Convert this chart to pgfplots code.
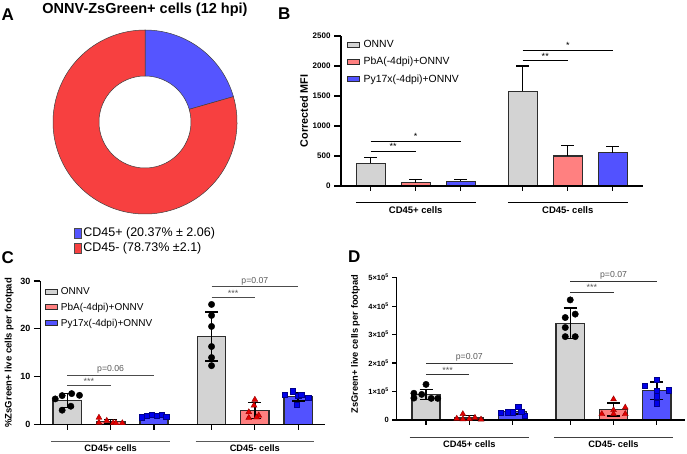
\documentclass[border=0pt]{standalone}
\usepackage{fontspec}
\setmainfont{Liberation Sans}
\setsansfont{Liberation Sans}
\usepackage{pgfplots}
\pgfplotsset{compat=1.18}
\definecolor{gbar}{RGB}{211,211,211}
\definecolor{rbar}{RGB}{255,128,128}
\definecolor{bbar}{RGB}{82,82,255}
\definecolor{dblue}{RGB}{85,85,255}
\definecolor{dred}{RGB}{247,64,64}
\definecolor{tri}{RGB}{228,0,0}
\definecolor{trie}{RGB}{150,0,0}
\definecolor{sq}{RGB}{0,0,235}
\definecolor{sqe}{RGB}{0,0,140}
\definecolor{edge}{RGB}{45,45,45}
\definecolor{sig}{RGB}{90,90,90}
\pgfplotsset{
  gp/.style={scale only axis, anchor=south west, axis y line*=left, axis x line*=none,
    xtick=\empty, clip=false, ymin=0,
    axis line style={line width=1.4pt, black},
    ytick style={line width=1.2pt, black}, tick align=outside,
    /pgf/number format/assume math mode=true, /pgf/number format/1000 sep={},
    scaled y ticks=false,
    legend cell align=left,
    legend image code/.code={\draw[##1, line width=1pt] (0pt,-2.5pt) rectangle (11.5pt,2.5pt);},
  },
  barst/.style={ybar, bar width=#1, draw=edge, line width=1.4pt,
    error bars/y explicit,
    error bars/error bar style={line width=1.4pt, black},
    error bars/error mark options={rotate=90, line width=1.4pt, mark size=6.5pt, black}},
}
\begin{document}
\begin{tikzpicture}
\path[use as bounding box] (0pt,0pt) rectangle (687pt,453pt);
% panel letters and title
\node[anchor=base west, inner sep=0pt, font=\fontsize{17}{17}\selectfont\bfseries] at (1.5pt,432.3pt) {A};
\node[anchor=base west, inner sep=0pt, font=\fontsize{17}{17}\selectfont\bfseries] at (278pt,433.7pt) {B};
\node[anchor=base west, inner sep=0pt, font=\fontsize{17}{17}\selectfont\bfseries] at (1.5pt,190pt) {C};
\node[anchor=base west, inner sep=0pt, font=\fontsize{17}{17}\selectfont\bfseries] at (348pt,190.3pt) {D};
\node[anchor=base, inner sep=0pt, font=\fontsize{14.5}{15}\selectfont\bfseries] at (145pt,439.7pt) {ONNV-ZsGreen+ cells (12 hpi)};

% ---------------- A: donut ----------------
\pgfmathsetmacro{\pplus}{20.37}
\pgfmathsetmacro{\pminus}{78.73}
\pgfmathsetmacro{\angb}{90-360*\pplus/(\pplus+\pminus)}
\begin{axis}[at={(145pt,331pt)}, anchor=center, scale only axis, width=184pt, height=184pt,
  hide axis, xmin=-1, xmax=1, ymin=-1, ymax=1, clip=false,
  legend cell align=left,
  legend style={at={(axis description cs:0.114,-0.0625)}, anchor=north west, draw=none, fill=none,
    inner sep=0pt, font=\fontsize{12.5}{14}\selectfont,
    nodes={text height=9pt, text depth=2.6pt, inner sep=1.7pt}},
  legend image code/.code={\draw[#1] (0pt,-5pt) rectangle (7pt,5pt);}]
\addlegendimage{fill=dblue, draw=black!70, line width=0.5pt}
\addlegendentry{CD45+ (20.37\% ± 2.06)}
\addlegendimage{fill=dred, draw=black!70, line width=0.5pt}
\addlegendentry{CD45- (78.73\% ±2.1)}
\fill[dblue, draw=black!75, line width=0.5pt] (axis cs:0,1) arc[start angle=90, end angle=\angb, radius=92pt]
  -- (axis cs:{0.5*cos(\angb)},{0.5*sin(\angb)}) arc[start angle=\angb, end angle=90, radius=46pt] -- cycle;
\fill[dred, draw=black!75, line width=0.5pt] (axis cs:{cos(\angb)},{sin(\angb)}) arc[start angle=\angb, end angle=-270, radius=92pt]
  -- (axis cs:0,0.5) arc[start angle=90, end angle={\angb+360}, radius=46pt] -- cycle;
\end{axis}

% ---------------- B ----------------
\begin{axis}[gp, at={(341pt,267pt)}, width=302pt, height=150pt,
  xmin=-0.66, xmax=6.05, ymax=2500, ytick={0,500,1000,1500,2000,2500},
  major tick length=7pt,
  y tick label style={font=\fontsize{8}{9}\selectfont\bfseries},
  ylabel={Corrected MFI},
  ylabel style={font=\fontsize{10.8}{12}\selectfont\bfseries, at={(axis description cs:-0.1225,0.5)}, anchor=center},
  legend style={at={(axis description cs:0.02,1.0)}, anchor=north west, draw=none, fill=none,
    inner sep=0pt, font=\fontsize{10.4}{12}\selectfont,
    nodes={text height=7.5pt, text depth=2pt, inner sep=3.9pt},
    /tikz/every even column/.append style={column sep=5pt}}]
\addplot[barst=29pt, fill=gbar, error bars/y dir=plus] coordinates {(0,378) +- (0,100) (3.378,1578) +- (0,422)};
\addlegendentry{ONNV}
\addplot[barst=29pt, fill=rbar, error bars/y dir=plus] coordinates {(1,55) +- (0,56) (4.378,500) +- (0,172)};
\addlegendentry{PbA(-4dpi)+ONNV}
\addplot[barst=29pt, fill=bbar, error bars/y dir=plus] coordinates {(2,78) +- (0,33) (5.378,555) +- (0,107)};
\addlegendentry{Py17x(-4dpi)+ONNV}
% x axis pieces and ticks
\draw[line width=1.4pt] (axis cs:-0.66,0) -- (axis cs:2.65,0);
\draw[line width=1.4pt] (axis cs:2.7,0) -- (axis cs:6.05,0);
\pgfplotsinvokeforeach{0,1,2,3.378,4.378,5.378}{\draw[line width=1.2pt] (axis cs:#1,0) -- (axis cs:#1,-90);}
% groups
\draw[line width=1pt] (axis cs:-0.33,-278) -- (axis cs:2.33,-278);
\draw[line width=1pt] (axis cs:3.05,-278) -- (axis cs:5.71,-278);
\node[anchor=base, inner sep=0pt, font=\fontsize{9.5}{10}\selectfont\bfseries] at (axis cs:1,-455) {CD45+ cells};
\node[anchor=base, inner sep=0pt, font=\fontsize{9.5}{10}\selectfont\bfseries] at (axis cs:4.378,-455) {CD45- cells};
% significance
\draw[line width=0.9pt] (axis cs:0,583) -- (axis cs:1,583) node[midway, above, inner sep=0.8pt, font=\fontsize{9}{9}\selectfont] {**};
\draw[line width=0.9pt] (axis cs:0,750) -- (axis cs:2,750) node[midway, above, inner sep=0.8pt, font=\fontsize{9}{9}\selectfont] {*};
\draw[line width=0.9pt] (axis cs:3.378,2095) -- (axis cs:4.378,2095) node[midway, above, inner sep=0.8pt, font=\fontsize{9}{9}\selectfont] {**};
\draw[line width=0.9pt] (axis cs:3.378,2267) -- (axis cs:5.378,2267) node[midway, above, inner sep=0.8pt, font=\fontsize{9}{9}\selectfont] {*};
\end{axis}

% ---------------- C ----------------
\begin{axis}[gp, at={(40.5pt,28.5pt)}, width=284.5pt, height=143.5pt,
  xmin=-0.62, xmax=5.95, ymax=30, ytick={0,10,20,30},
  major tick length=6.5pt,
  y tick label style={font=\fontsize{9}{10}\selectfont\bfseries},
  ylabel={\%ZsGreen+ live cells per footpad},
  ylabel style={font=\fontsize{9.5}{11}\selectfont\bfseries, at={(axis description cs:-0.1097,0.5)}, anchor=center},
  legend style={at={(axis description cs:0.016,0.982)}, anchor=north west, draw=none, fill=none,
    inner sep=0pt, font=\fontsize{10}{12}\selectfont,
    nodes={text height=7.5pt, text depth=2pt, inner sep=3.15pt},
    /tikz/every even column/.append style={column sep=5.5pt}}]
\addplot[barst=28.3pt, fill=gbar, error bars/y dir=both] coordinates {(0,5.0) +- (0,1.5) (3.33,18.4) +- (0,5.1)};
\addlegendentry{ONNV}
\addplot[barst=28.3pt, fill=rbar, error bars/y dir=both] coordinates {(1,0.6) +- (0,0.5) (4.33,2.9) +- (0,1.65)};
\addlegendentry{PbA(-4dpi)+ONNV}
\addplot[barst=28.3pt, fill=bbar, error bars/y dir=both] coordinates {(2,1.82) +- (0,0.25) (5.33,5.8) +- (0,0.85)};
\addlegendentry{Py17x(-4dpi)+ONNV}
\addplot[only marks, mark=*, mark size=3.2pt, black, forget plot] coordinates {
 (-0.28,5.35) (-0.12,6.04) (0.10,6.46) (0.28,6.1) (-0.12,2.99) (0.08,3.82)
 (3.33,25.1) (3.33,22.8) (3.33,20.5) (3.33,16.3) (3.33,14.0) (3.33,12.3)};
\addplot[only marks, mark=triangle*, mark size=3.4pt, mark options={fill=tri, draw=trie, line width=0.4pt}, forget plot] coordinates {
 (0.73,1.45) (0.91,0.8) (1.06,0.35) (1.27,0.3) (0.73,0.4) (1.12,0.3)
 (4.33,5.2) (4.31,4.0) (4.19,2.6) (4.19,1.4) (4.42,1.9) (4.37,1.5)};
\addplot[only marks, mark=square*, mark size=2.7pt, mark options={fill=sq, draw=sqe, line width=0.4pt}, forget plot] coordinates {
 (1.72,1.5) (1.83,1.9) (1.95,2.0) (2.06,1.9) (2.18,2.0) (2.28,1.6)
 (5.02,6.18) (5.21,6.94) (5.33,6.04) (5.56,5.6) (5.29,4.17) (5.40,6.25)};
\draw[line width=1.4pt] (axis cs:-0.62,0) -- (axis cs:2.67,0);
\draw[line width=1.4pt] (axis cs:2.72,0) -- (axis cs:5.95,0);
\pgfplotsinvokeforeach{0,1,2,3.33,4.33,5.33}{\draw[line width=1.2pt] (axis cs:#1,0) -- (axis cs:#1,-1.1);}
\draw[line width=1pt, black!65] (axis cs:-0.37,-3.6) -- (axis cs:2.37,-3.6);
\draw[line width=1pt, black!65] (axis cs:2.96,-3.6) -- (axis cs:5.7,-3.6);
\node[anchor=base, inner sep=0pt, font=\fontsize{9.3}{10}\selectfont\bfseries] at (axis cs:1,-5.69) {CD45+ cells};
\node[anchor=base, inner sep=0pt, font=\fontsize{9.3}{10}\selectfont\bfseries] at (axis cs:4.33,-5.69) {CD45- cells};
\draw[line width=0.9pt, black!70] (axis cs:0,8.1) -- (axis cs:1,8.1) node[midway, above, inner sep=0.8pt, text=sig, font=\fontsize{9}{9}\selectfont] {***};
\draw[line width=0.9pt, black!70] (axis cs:0,10.35) -- (axis cs:2,10.35) node[midway, above, inner sep=1.2pt, text=sig, font=\fontsize{8.7}{9}\selectfont] {p=0.06};
\draw[line width=0.9pt, black!70] (axis cs:3.33,26.5) -- (axis cs:4.33,26.5) node[midway, above, inner sep=0.8pt, text=sig, font=\fontsize{9}{9}\selectfont] {***};
\draw[line width=0.9pt, black!70] (axis cs:3.33,28.8) -- (axis cs:5.33,28.8) node[midway, above, inner sep=1.2pt, text=sig, font=\fontsize{8.7}{9}\selectfont] {p=0.07};
\end{axis}

% ---------------- D ----------------
\begin{axis}[gp, at={(396.7pt,33pt)}, width=288.3pt, height=142.3pt,
  xmin=-0.677, xmax=5.98, ymax=500000,
  ytick={0,100000,200000,300000,400000,500000},
  yticklabels={0,{1×10\textsuperscript{5}},{2×10\textsuperscript{5}},{3×10\textsuperscript{5}},{4×10\textsuperscript{5}},{5×10\textsuperscript{5}}},
  major tick length=4.5pt,
  y tick label style={font=\fontsize{7.5}{9}\selectfont\bfseries},
  ylabel={ZsGreen+ live cells per footpad},
  ylabel style={font=\fontsize{9.3}{11}\selectfont\bfseries, at={(axis description cs:-0.143,0.534)}, anchor=center}]
\addplot[barst=28.3pt, fill=gbar, error bars/y dir=both] coordinates {(0,90000) +- (0,18000) (3.33,340000) +- (0,53000)};
\addplot[barst=28.3pt, fill=rbar, error bars/y dir=both] coordinates {(1,7000) +- (0,8000) (4.33,37000) +- (0,23000)};
\addplot[barst=28.3pt, fill=bbar, error bars/y dir=both] coordinates {(2,29000) +- (0,8000) (5.33,103000) +- (0,30000)};
\addplot[only marks, mark=*, mark size=3.2pt, black] coordinates {
 (0,125000) (-0.28,94000) (-0.1,90000) (-0.28,77000) (0.12,76000) (0.27,76000)
 (3.33,422000) (3.215,360000) (3.445,372000) (3.215,325000) (3.215,293000) (3.445,293000)};
\addplot[only marks, mark=triangle*, mark size=3.4pt, mark options={fill=tri, draw=trie, line width=0.4pt}] coordinates {
 (0.85,21000) (0.71,5000) (1.13,8000) (1.27,2000) (1,3500) (0.85,3000)
 (4.33,73000) (4.6,44000) (4.33,35000) (4.06,21000) (4.6,21000) (4.33,21000)};
\addplot[only marks, mark=square*, mark size=2.7pt, mark options={fill=sq, draw=sqe, line width=0.4pt}] coordinates {
 (2.13,47000) (1.73,26000) (1.88,28000) (2,27000) (2.28,15000) (2.2,30000)
 (5.33,141000) (5.05,121000) (5.61,105000) (5.33,103000) (5.33,84000) (5.33,59000)};
\draw[line width=1.4pt] (axis cs:-0.677,0) -- (axis cs:2.66,0);
\draw[line width=1.4pt] (axis cs:2.72,0) -- (axis cs:5.98,0);
\pgfplotsinvokeforeach{0,1,2,3.33,4.33,5.33}{\draw[line width=1.2pt] (axis cs:#1,0) -- (axis cs:#1,-18000);}
\draw[line width=1pt, black!75] (axis cs:-0.38,-60800) -- (axis cs:2.38,-60800);
\draw[line width=1pt, black!75] (axis cs:2.95,-60800) -- (axis cs:5.71,-60800);
\node[anchor=base, inner sep=0pt, font=\fontsize{9.3}{10}\selectfont\bfseries] at (axis cs:1,-95900) {CD45+ cells};
\node[anchor=base, inner sep=0pt, font=\fontsize{9.3}{10}\selectfont\bfseries] at (axis cs:4.33,-95900) {CD45- cells};
\draw[line width=0.9pt, black!80] (axis cs:0,160600) -- (axis cs:1,160600) node[midway, above, inner sep=0.8pt, text=sig, font=\fontsize{9}{9}\selectfont] {***};
\draw[line width=0.9pt, black!80] (axis cs:0,199000) -- (axis cs:2,199000) node[midway, above, inner sep=1.2pt, text=sig, font=\fontsize{8.7}{9}\selectfont] {p=0.07};
\draw[line width=0.9pt, black!80] (axis cs:3.33,449000) -- (axis cs:4.33,449000) node[midway, above, inner sep=0.8pt, text=sig, font=\fontsize{9}{9}\selectfont] {***};
\draw[line width=0.9pt, black!80] (axis cs:3.33,488000) -- (axis cs:5.33,488000) node[midway, above, inner sep=1.2pt, text=sig, font=\fontsize{8.7}{9}\selectfont] {p=0.07};
\end{axis}
\end{tikzpicture}
\end{document}
